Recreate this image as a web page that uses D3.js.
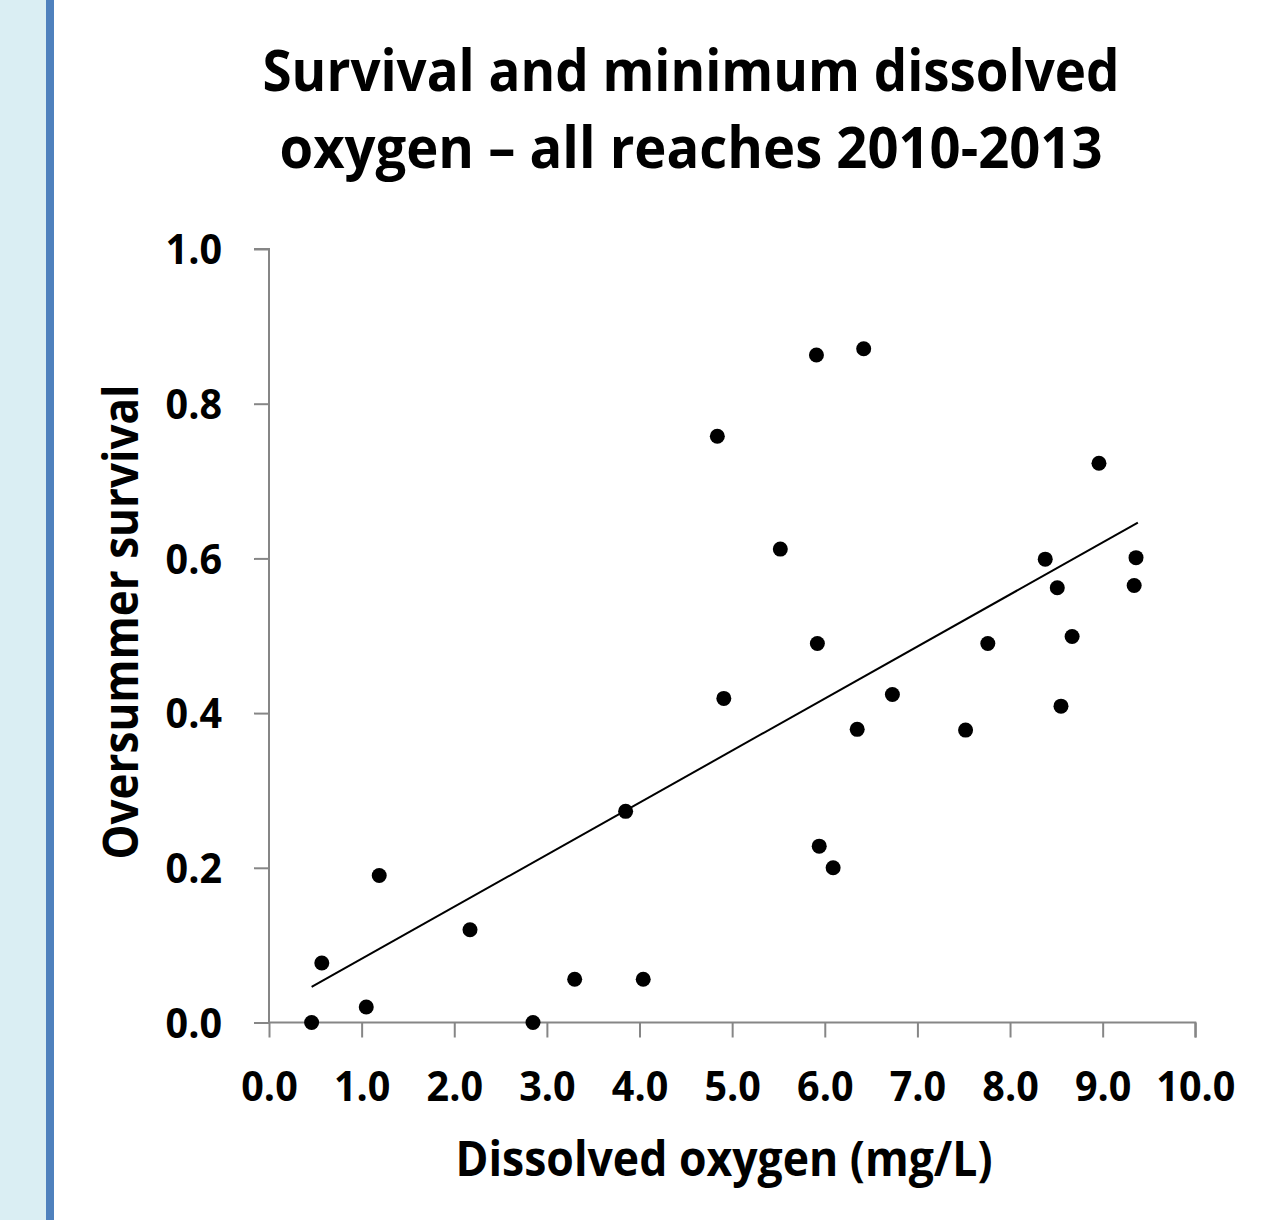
<!DOCTYPE html>
<html>
<head>
<meta charset="utf-8">
<script src="https://cdn.jsdelivr.net/npm/d3@7"></script>
<style>
  html, body { margin: 0; padding: 0; background: #fff; }
  svg text { font-family: "Open Sans", "Noto Sans", sans-serif; font-weight: bold; fill: #000; }
</style>
</head>
<body>
<svg id="chart" width="1263" height="1220"></svg>
<script>
// dissolved oxygen (mg/L) and oversummer survival
const oxygen = [0.46, 0.57, 1.05, 1.19, 2.17, 2.85, 3.30, 4.04, 3.85, 4.84, 4.91, 5.52, 5.91, 5.92,
  5.94, 6.09, 6.42, 6.35, 6.73, 7.52, 7.76, 8.38, 8.51, 8.55, 8.67, 8.96, 9.36, 9.34];
const survival = [0.0, 0.077, 0.02, 0.19, 0.12, 0.0, 0.056, 0.056, 0.273, 0.758, 0.419, 0.612, 0.863, 0.490,
  0.228, 0.200, 0.871, 0.379, 0.424, 0.378, 0.490, 0.599, 0.562, 0.409, 0.499, 0.723, 0.601, 0.565];
const xTicks = [0, 1, 2, 3, 4, 5, 6, 7, 8, 9, 10];
const yTicks = [0, 0.2, 0.4, 0.6, 0.8, 1.0];
const titleLines = ["Survival and minimum dissolved", "oxygen \u2013 all reaches 2010-2013"];
const xTitle = "Dissolved oxygen (mg/L)";
const yTitle = "Oversummer survival";

const data = oxygen.map((x, i) => ({x: x, y: survival[i]}));

const dim = {width: 1263, height: 1220, left: 269, right: 1195.3, top: 249, bottom: 1022.5};
const svg = d3.select("#chart");

svg.append("rect").attr("width", dim.width).attr("height", dim.height).attr("fill", "#fff");
svg.append("rect").attr("x", 0).attr("width", 46).attr("height", dim.height).attr("fill", "#DAEEF3");
svg.append("rect").attr("x", 46).attr("width", 8).attr("height", dim.height).attr("fill", "#4F81BD");

const xScale = d3.scaleLinear().domain([0, 10]).range([dim.left, dim.right]);
const yScale = d3.scaleLinear().domain([0, 1]).range([dim.bottom, dim.top]);

const axisColor = "#868686";

const xAxis = svg.append("g")
  .attr("transform", `translate(0,${dim.bottom})`)
  .call(d3.axisBottom(xScale).tickValues(xTicks).tickSizeInner(15).tickSizeOuter(15).tickPadding(34)
    .tickFormat(d3.format(".1f")));
const yAxis = svg.append("g")
  .attr("transform", `translate(${dim.left},0)`)
  .call(d3.axisLeft(yScale).tickValues(yTicks).tickSizeInner(15).tickSizeOuter(15).tickPadding(32)
    .tickFormat(d3.format(".1f")));

[xAxis, yAxis].forEach(ax => {
  ax.selectAll("path, line").attr("stroke", axisColor).attr("stroke-width", 2);
  ax.selectAll("text").attr("font-size", 42).attr("font-family", null).attr("fill", "#000");
});
xAxis.select(".domain").attr("d", `M${dim.left},0H${dim.right}V15`);
yAxis.select(".domain").attr("d", `M-15,${dim.top - 0}H0V${dim.bottom}`);
xAxis.selectAll("text").attr("dy", null).attr("y", 78);
yAxis.selectAll("text").attr("dy", "0.35em");

// linear trend (least squares)
const mx = d3.mean(oxygen), my = d3.mean(survival);
const slope = d3.sum(data, d => (d.x - mx) * (d.y - my)) / d3.sum(data, d => (d.x - mx) ** 2);
const intercept = my - slope * mx;
const [x0, x1] = d3.extent(oxygen);
svg.append("path")
  .datum([x0, x1 + 0.02])
  .attr("fill", "none")
  .attr("stroke", "#000")
  .attr("stroke-width", 2)
  .attr("d", d3.line().x(d => xScale(d)).y(d => yScale(intercept + slope * d)));

svg.append("g").selectAll("circle")
  .data(data)
  .enter()
  .append("circle")
  .attr("cx", d => xScale(d.x))
  .attr("cy", d => yScale(d.y))
  .attr("r", 7.5)
  .attr("fill", "#000");

const title = svg.append("g");
title.selectAll("text")
  .data(titleLines)
  .enter()
  .append("text")
  .attr("x", 691)
  .attr("y", (d, i) => 91 + i * 77)
  .attr("text-anchor", "middle")
  .attr("font-size", 57)
  .text(d => d);

svg.append("text")
  .attr("class", "xtitle")
  .attr("x", 724)
  .attr("y", 1176)
  .attr("text-anchor", "middle")
  .attr("font-size", 48)
  .text(xTitle);

svg.append("text")
  .attr("class", "ytitle")
  .attr("transform", "translate(138,622) rotate(-90)")
  .attr("text-anchor", "middle")
  .attr("font-size", 48)
  .text(yTitle);

// squeeze the wider fallback font to the widths seen in the picture
const fit = (sel, w) => sel.attr("textLength", w).attr("lengthAdjust", "spacingAndGlyphs");
const titleW = [857, 823];
title.selectAll("text").each(function(d, i) { fit(d3.select(this), titleW[i]); });
fit(svg.select(".xtitle"), 537);
fit(svg.select(".ytitle"), 475);

const ref = xAxis.selectAll("text").filter(d => d === 10).node().getComputedTextLength();
const k = 79 / ref;
[xAxis, yAxis].forEach(ax => ax.selectAll("text").each(function() {
  fit(d3.select(this), this.getComputedTextLength() * k);
}));
</script>
</body>
</html>
